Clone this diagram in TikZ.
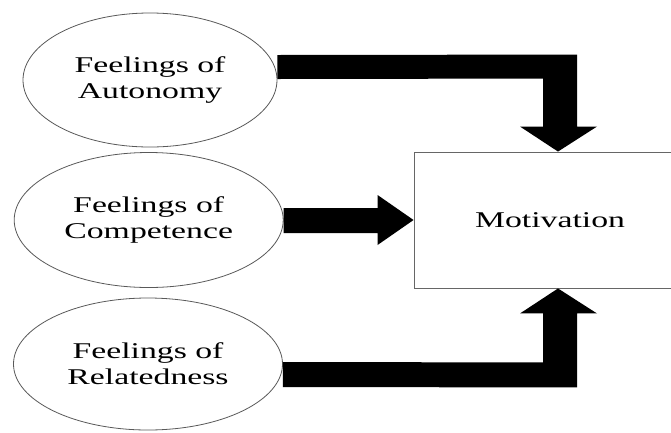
\documentclass[tikz,border=0pt]{standalone}
\usepackage{fontspec}
\setmainfont{Liberation Serif}
\usetikzlibrary{shapes.geometric,calc}
\newcommand\widetxt[1]{\scalebox{1.5}[1]{#1}}
\begin{document}
\begin{tikzpicture}[x=1pt,y=-1pt,
  feel/.style={ellipse,draw=black!65,line width=0.8pt,fill=white,inner sep=0pt,align=center,
               font=\fontsize{22.5}{26}\selectfont},
  motbox/.style={rectangle,draw=black!60,line width=0.9pt,inner sep=0pt,
               font=\fontsize{22.5}{26}\selectfont},
  fat/.style={fill=black}]
\useasboundingbox (0,0) rectangle (671,432);
\clip (0,0) rectangle (671,432);
\node[feel,minimum width=254pt,minimum height=134pt] (A) at (150,80) {\widetxt{Feelings of}\\\widetxt{Autonomy}};
\node[feel,minimum width=269pt,minimum height=135pt] (B) at (148.7,220) {\widetxt{Feelings of}\\\widetxt{Competence}};
\node[feel,minimum width=269pt,minimum height=132pt] (C) at (148,364) {\widetxt{Feelings of}\\\widetxt{Relatedness}};
\node[motbox,minimum width=272pt,minimum height=136pt] (M) at (550,220) {\widetxt{Motivation}};
\coordinate (t1) at ($(M.north)+(8,0)$);
\coordinate (t3) at ($(M.south)+(8,0)$);
\fill[fat] ($(A.east)+(0,-25)$) -- ($(t1)+(19,-97)$) -- ($(t1)+(19,-25)$) -- ($(t1)+(39,-25)$) -- (t1)
  -- ($(t1)+(-38,-25)$) -- ($(t1)+(-15,-25)$) -- ($(t1)+(-15,-73)$) -- ($(A.east)+(0,-1)$) -- cycle;
\fill[fat] ($(B.east)+(0,-12)$) -- ($(M.west)+(-36,-12)$) -- ($(M.west)+(-36,-25)$) -- (M.west)
  -- ($(M.west)+(-36,25)$) -- ($(M.west)+(-36,13)$) -- ($(B.east)+(0,13)$) -- cycle;
\fill[fat] ($(C.east)+(0,-2)$) -- ($(t3)+(-15,74)$) -- ($(t3)+(-15,25)$) -- ($(t3)+(-38,25)$) -- (t3)
  -- ($(t3)+(39,25)$) -- ($(t3)+(19,25)$) -- ($(t3)+(19,99)$) -- ($(C.east)+(0,23)$) -- cycle;
\end{tikzpicture}
\end{document}
